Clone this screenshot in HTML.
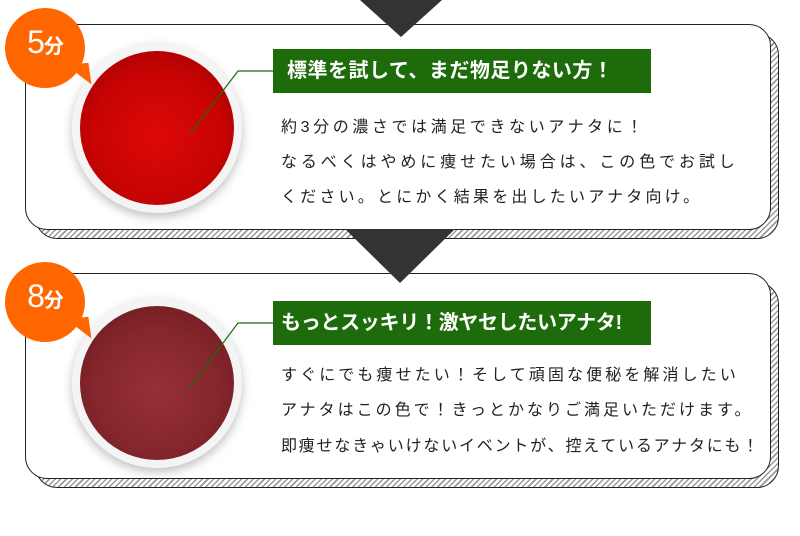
<!DOCTYPE html>
<html><head><meta charset="utf-8"><style>
*{margin:0;padding:0;box-sizing:border-box}
body{width:800px;height:536px;background:#fff;position:relative;overflow:hidden;font-family:"Liberation Sans","Noto Sans CJK JP",sans-serif}
.sh{position:absolute;border:1px solid #222;border-radius:22px;background:repeating-linear-gradient(-45deg,#999 0 1.5px,#fff 1.5px 4px)}
.fr{position:absolute;border:1px solid #222;border-radius:22px;background:#fff}
.tri{position:absolute;width:0;height:0;border-left-style:solid;border-right-style:solid;border-top-style:solid;border-left-color:transparent;border-right-color:transparent;border-top-color:#333}
.badge{position:absolute;width:80px;height:80px;border-radius:50%;background:#ff6600;color:#fff}
.badge .t{position:absolute;left:0;right:0;top:16px;text-align:center;font-size:32px;letter-spacing:-1px}
.badge .t small{font-size:20px;font-weight:bold}
.cup{position:absolute;width:170px;height:170px;border-radius:50%;background:radial-gradient(circle,#f4f4f4 85%,#dcdcdc 95%,#eee 100%);box-shadow:0 4px 10px rgba(0,0,0,.25)}
.tea{position:absolute;left:8px;top:8px;width:154px;height:154px;border-radius:50%}
.lbl{position:absolute;left:273px;width:378px;height:44px;background:#1e6b0c;color:#fff;font-size:20px;font-weight:bold;line-height:44px;padding-left:14px;letter-spacing:0.5px;white-space:nowrap}
.tx{position:absolute;left:281px;font-size:16px;color:#222;white-space:nowrap;line-height:20px}
</style></head><body>
<div class="tri" style="left:360px;top:0;border-left-width:41px;border-right-width:41px;border-top-width:37px;z-index:3"></div>

<div class="sh" style="left:35px;top:33px;width:744px;height:206px"></div>
<div class="fr" style="left:25px;top:24px;width:746px;height:206px"></div>
<div class="tri" style="left:345px;top:229px;border-left-width:55px;border-right-width:55px;border-top-width:54px;z-index:3"></div>

<div class="sh" style="left:35px;top:282px;width:744px;height:206px"></div>
<div class="fr" style="left:25px;top:273px;width:746px;height:206px"></div>

<!-- card1 -->
<div class="cup" style="left:72px;top:43px"><div class="tea" style="background:radial-gradient(circle at 50% 55%,#dd0808 0%,#c80404 55%,#a80000 85%,#c0501c 97%,#d07040 100%)"></div></div>
<div class="badge" style="left:5px;top:8px"><div class="t">5<small>分</small></div></div>
<div style="position:absolute;left:68px;top:64px;width:0;height:0;border-left:22px solid transparent;border-top:22px solid #ff6600;transform:rotate(-8deg)"></div>
<div class="lbl" style="top:49px">標準を試して、まだ物足りない方！</div>
<div class="tx" style="top:118px;letter-spacing:3.6px">約3分の濃さでは満足できないアナタに！</div>
<div class="tx" style="top:153px;letter-spacing:3.9px">なるべくはやめに痩せたい場合は、この色でお試し</div>
<div class="tx" style="top:188px;letter-spacing:3.2px">ください。とにかく結果を出したいアナタ向け。</div>

<!-- card2 -->
<div class="cup" style="left:72px;top:298px"><div class="tea" style="background:radial-gradient(circle at 50% 55%,#963036 0%,#84262c 55%,#6e1c20 85%,#8a3a2c 97%,#a05a44 100%)"></div></div>
<div class="badge" style="left:5px;top:262px"><div class="t">8<small>分</small></div></div>
<div style="position:absolute;left:68px;top:318px;width:0;height:0;border-left:22px solid transparent;border-top:22px solid #ff6600;transform:rotate(-8deg)"></div>
<div class="lbl" style="top:301px;padding-left:8px;letter-spacing:-0.3px">もっとスッキリ！激ヤセしたいアナタ!</div>
<div class="tx" style="top:366px;letter-spacing:3.1px">すぐにでも痩せたい！そして頑固な便秘を解消したい</div>
<div class="tx" style="top:401px;letter-spacing:3.0px">アナタはこの色で！きっとかなりご満足いただけます。</div>
<div class="tx" style="top:437px;letter-spacing:1.8px">即痩せなきゃいけないイベントが、控えているアナタにも！</div>

<svg style="position:absolute;left:0;top:0;z-index:5" width="800" height="536"><polyline points="190,134 238,71 273,71" fill="none" stroke="#1e6b0c" stroke-width="1.2"/><polyline points="190,387 238,323 273,323" fill="none" stroke="#1e6b0c" stroke-width="1.2"/></svg>
</body></html>
